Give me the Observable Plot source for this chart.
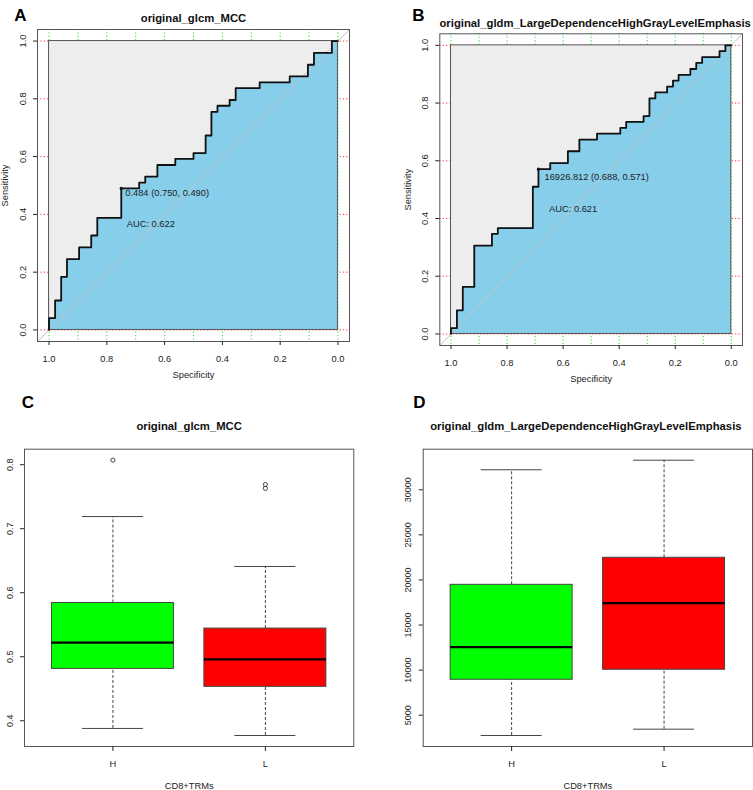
<!DOCTYPE html>
<html>
<head>
<meta charset="utf-8">
<script src="https://cdn.jsdelivr.net/npm/d3@7"></script>
<script src="https://cdn.jsdelivr.net/npm/@observablehq/plot@0.6"></script>
<style>
body { margin: 0; background: #fff; }
#wrap { position: relative; width: 753px; height: 790px; overflow: hidden; background: #fff; }
#wrap > div { position: absolute; }
</style>
</head>
<body>
<div id="wrap">
  <div id="pa" style="left:0px;top:0px"></div>
  <div id="pb" style="left:376px;top:0px"></div>
  <div id="pc" style="left:0px;top:390px"></div>
  <div id="pd" style="left:376px;top:390px"></div>
</div>
<script>
// ---------- DATA ----------
// Panel A: ROC of original_glcm_MCC (specificity where curve steps up, sensitivity reached)
const rocA_title = "original_glcm_MCC";
const rocA_spec = [1.000, 0.979, 0.958, 0.938, 0.896, 0.854, 0.833, 0.750, 0.688, 0.667, 0.625, 0.563, 0.500, 0.458, 0.438, 0.417, 0.375, 0.354, 0.271, 0.167, 0.104, 0.083, 0.021, 0.000];
const rocA_sens = [0.041, 0.102, 0.184, 0.245, 0.286, 0.327, 0.388, 0.490, 0.510, 0.531, 0.571, 0.592, 0.612, 0.673, 0.755, 0.776, 0.796, 0.837, 0.857, 0.878, 0.918, 0.959, 1.000, 1.000];
const rocA_cut = [0.750, 0.490];
const rocA_cutLabel = "0.484 (0.750, 0.490)";
const rocA_auc = "AUC: 0.622";

// Panel B: ROC of original_gldm_LargeDependenceHighGrayLevelEmphasis
const rocB_title = "original_gldm_LargeDependenceHighGrayLevelEmphasis";
const rocB_spec = [1.000, 0.979, 0.958, 0.917, 0.854, 0.833, 0.708, 0.688, 0.646, 0.583, 0.542, 0.479, 0.396, 0.375, 0.313, 0.292, 0.271, 0.229, 0.208, 0.188, 0.146, 0.125, 0.104, 0.042, 0.021, 0.000];
const rocB_sens = [0.020, 0.082, 0.163, 0.306, 0.347, 0.367, 0.510, 0.571, 0.592, 0.633, 0.673, 0.694, 0.714, 0.735, 0.755, 0.816, 0.837, 0.857, 0.878, 0.898, 0.918, 0.939, 0.959, 0.980, 1.000, 1.000];
const rocB_cut = [0.688, 0.571];
const rocB_cutLabel = "16926.812 (0.688, 0.571)";
const rocB_auc = "AUC: 0.621";

const rocTicksX = [1.0, 0.8, 0.6, 0.4, 0.2, 0.0];
const rocTicksY = [0.0, 0.2, 0.4, 0.6, 0.8, 1.0];
const rocGridX = [0.0, 0.1, 0.2, 0.3, 0.4, 0.5, 0.6, 0.7, 0.8, 0.9, 1.0];
const rocGridY = [0.0, 0.2, 0.4, 0.6, 0.8, 1.0];

// Boxplots
const boxGroups = ["H", "L"];
const boxXLabel = "CD8+TRMs";

const boxC_title = "original_glcm_MCC";
const boxC_lower  = [0.388, 0.377];
const boxC_q1     = [0.481, 0.453];
const boxC_median = [0.522, 0.496];
const boxC_q3     = [0.584, 0.544];
const boxC_upper  = [0.719, 0.641];
const boxC_outliers = [[0.807], [0.769, 0.763]];
const boxC_ticks = [0.4, 0.5, 0.6, 0.7, 0.8];

const boxD_title = "original_gldm_LargeDependenceHighGrayLevelEmphasis";
const boxD_lower  = [2750, 3450];
const boxD_q1     = [8930, 10040];
const boxD_median = [12540, 17420];
const boxD_q3     = [19460, 22460];
const boxD_upper  = [32220, 33280];
const boxD_outliers = [[], []];
const boxD_ticks = [5000, 10000, 15000, 20000, 25000, 30000];

// ---------- STYLE ----------
const FONT = "'Liberation Sans', Arial, Helvetica, sans-serif";
const boxColors = ["#00ff00", "#ff0000"];

function rocPanel(c) {
  const pts = [{s: 1, v: 0}].concat(c.spec.map((s, i) => ({s, v: c.sens[i]})));
  const lo = -0.04, hi = 1.04;
  return Plot.plot({
    width: c.width, height: 390,
    marginLeft: c.ml, marginRight: c.mr, marginTop: c.mt, marginBottom: c.mb,
    x: {domain: [hi, lo]},
    y: {domain: [lo, hi]},
    style: {fontFamily: FONT, fontSize: "9px", color: "#222", background: "transparent", overflow: "visible"},
    marks: [
      Plot.ruleX(rocGridX, {x: d => d, stroke: "#22dd22", strokeDasharray: "1.2,2.2"}),
      Plot.ruleY(rocGridY, {y: d => d, stroke: "#ff2a2a", strokeDasharray: "1.2,2.2"}),
      Plot.rect([0], {x1: 1, x2: 0, y1: 0, y2: 1, fill: "#ededed"}),
      Plot.areaY(pts, {x: "s", y1: 0, y2: "v", curve: "step-after", fill: "#87ceeb"}),
      Plot.link([0], {x1: hi, y1: lo, x2: lo, y2: hi, stroke: "#c4c4c4", strokeWidth: 1}),
      Plot.rect([0], {x1: 1, x2: 0, y1: 0, y2: 1, fill: "none", stroke: "#555"}),
      Plot.line(pts, {x: "s", y: "v", curve: "step-after", stroke: "#111", strokeWidth: 1.8}),
      Plot.dot([c.cut], {x: d => d[0], y: d => d[1], r: 1.6, fill: "#111"}),
      Plot.text([c.cutLabel], {x: c.cut[0], y: c.cut[1], text: d => d, dx: c.cutDx, dy: c.cutDy,
        textAnchor: "start", lineAnchor: "middle", fontSize: 9.3, fill: "#222"}),
      Plot.text([c.auc], {x: c.aucPos[0], y: c.aucPos[1], text: d => d, textAnchor: "start",
        lineAnchor: "middle", fontSize: 9.3, fill: "#222"}),
      Plot.frame({stroke: "#555"}),
      Plot.axisX({ticks: rocTicksX, tickSize: 4, tickPadding: 10, tickFormat: d3.format(".1f"), label: null, fontSize: 9.3}),
      Plot.axisY({ticks: rocTicksY, tickSize: 4, tickPadding: 8, tickRotate: -90, tickFormat: d3.format(".1f"), label: null, fontSize: 9.3}),
      Plot.text(["Specificity"], {text: d => d, frameAnchor: "bottom", dy: 34, textAnchor: "middle", lineAnchor: "middle", fontSize: 9.3}),
      Plot.text(["Sensitivity"], {text: d => d, frameAnchor: "left", dx: -32, rotate: -90, textAnchor: "middle", lineAnchor: "middle", fontSize: 9.3}),
      Plot.text([c.title], {text: d => d, frameAnchor: "top", dx: c.titleDx, dy: c.titleDy, textAnchor: "middle", lineAnchor: "middle",
        fontWeight: "bold", fontSize: 11.3, fill: "#111"}),
      Plot.text([c.letter], {text: d => d, frameAnchor: "top-left", dx: c.letterDx, dy: c.letterDy, textAnchor: "middle", lineAnchor: "middle",
        fontWeight: "bold", fontSize: 17, fill: "#000"})
    ]
  });
}

function boxPanel(c) {
  const n = c.groups.length;
  const rows = c.groups.map((g, i) => ({g, pos: i + 1, lo: c.lower[i], q1: c.q1[i], med: c.median[i], q3: c.q3[i], hi: c.upper[i], col: boxColors[i]}));
  const outs = c.outliers.flatMap((arr, i) => arr.map(v => ({pos: i + 1, v})));
  const all = [...c.lower, ...c.upper, ...outs.map(d => d.v)];
  const mn = d3.min(all), mx = d3.max(all), pad = (mx - mn) * 0.04;
  const half = 0.4, cap = 0.2;
  return Plot.plot({
    width: c.width, height: 400,
    marginLeft: c.ml, marginRight: c.mr, marginTop: 58.7, marginBottom: 44,
    x: {domain: [0.5 - n * 0.04, n + 0.5 + n * 0.04]},
    y: {domain: [mn - pad, mx + pad]},
    color: {type: "identity"},
    style: {fontFamily: FONT, fontSize: "9px", color: "#222", background: "transparent", overflow: "visible"},
    marks: [
      Plot.ruleX(rows, {x: "pos", y1: "q3", y2: "hi", stroke: "#444", strokeDasharray: "3,2"}),
      Plot.ruleX(rows, {x: "pos", y1: "lo", y2: "q1", stroke: "#444", strokeDasharray: "3,2"}),
      Plot.ruleY(rows, {y: "hi", x1: d => d.pos - cap, x2: d => d.pos + cap, stroke: "#444"}),
      Plot.ruleY(rows, {y: "lo", x1: d => d.pos - cap, x2: d => d.pos + cap, stroke: "#444"}),
      Plot.rect(rows, {x1: d => d.pos - half, x2: d => d.pos + half, y1: "q1", y2: "q3", fill: "col", stroke: "#444"}),
      Plot.ruleY(rows, {y: "med", x1: d => d.pos - half, x2: d => d.pos + half, stroke: "#000", strokeWidth: 2.3}),
      Plot.dot(outs, {x: "pos", y: "v", r: 2.1, stroke: "#333", fill: "none", strokeWidth: 0.9}),
      Plot.frame({stroke: "#555"}),
      Plot.axisX({ticks: c.groups.map((g, i) => i + 1), tickFormat: d => c.groups[d - 1], tickSize: 5, tickPadding: 9, label: null, fontSize: 9.3}),
      Plot.axisY({ticks: c.ticks, tickSize: 4, tickPadding: 8, tickRotate: -90, tickFormat: c.fmt, label: null, fontSize: 9}),
      Plot.text([c.xlabel], {text: d => d, frameAnchor: "bottom", dy: 39.7, textAnchor: "middle", lineAnchor: "middle", fontSize: 9.3}),
      Plot.text([c.title], {text: d => d, frameAnchor: "top", dx: c.titleDx, dy: -22.7, textAnchor: "middle", lineAnchor: "middle",
        fontWeight: "bold", fontSize: 11.3, fill: "#111"}),
      Plot.text([c.letter], {text: d => d, frameAnchor: "top-left", dx: c.letterDx, dy: -47, textAnchor: "middle", lineAnchor: "middle",
        fontWeight: "bold", fontSize: 17, fill: "#000"})
    ]
  });
}

document.getElementById("pa").append(rocPanel({
  width: 376, ml: 37, mr: 27, mt: 29, mb: 49,
  spec: rocA_spec, sens: rocA_sens, cut: rocA_cut, cutLabel: rocA_cutLabel, cutDx: 4, cutDy: 5,
  auc: rocA_auc, aucPos: [0.731, 0.365], title: rocA_title, titleDx: 0, titleDy: -11,
  letter: "A", letterDx: -17, letterDy: -14
}));
document.getElementById("pb").append(rocPanel({
  width: 377, ml: 63.3, mr: 11, mt: 33.3, mb: 45,
  spec: rocB_spec, sens: rocB_sens, cut: rocB_cut, cutLabel: rocB_cutLabel, cutDx: 6, cutDy: 8,
  auc: rocB_auc, aucPos: [0.650, 0.432], title: rocB_title, titleDx: 4, titleDy: -10.6,
  letter: "B", letterDx: -21.3, letterDy: -18.3
}));
document.getElementById("pc").append(boxPanel({
  width: 376, ml: 24, mr: 22.7, groups: boxGroups,
  lower: boxC_lower, q1: boxC_q1, median: boxC_median, q3: boxC_q3, upper: boxC_upper, outliers: boxC_outliers,
  ticks: boxC_ticks, fmt: d3.format(".1f"), xlabel: boxXLabel, title: boxC_title, titleDx: 0,
  letter: "C", letterDx: 3.5
}));
document.getElementById("pd").append(boxPanel({
  width: 377, ml: 46.7, mr: 1, groups: boxGroups,
  lower: boxD_lower, q1: boxD_q1, median: boxD_median, q3: boxD_q3, upper: boxD_upper, outliers: boxD_outliers,
  ticks: boxD_ticks, fmt: d => String(d), xlabel: boxXLabel, title: boxD_title, titleDx: -2,
  letter: "D", letterDx: -3.7
}));
</script>
</body>
</html>
